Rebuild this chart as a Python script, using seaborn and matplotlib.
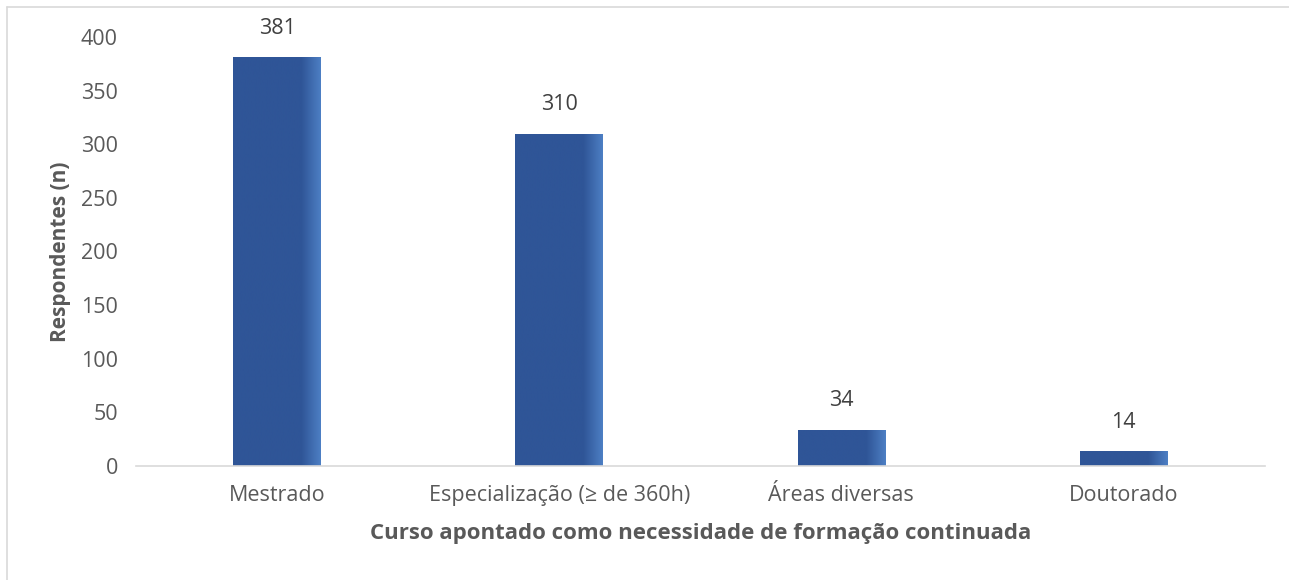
import numpy as np
import pandas as pd
import matplotlib
matplotlib.use("Agg")
import matplotlib.pyplot as plt
from matplotlib.colors import LinearSegmentedColormap
from matplotlib.lines import Line2D
import seaborn as sns

# data
cursos = ["Mestrado", "Especialização (≥ de 360h)", "Áreas diversas", "Doutorado"]
respondentes = [381, 310, 34, 14]
y_ticks = [0, 50, 100, 150, 200, 250, 300, 350, 400]

TEXT = "#595959"
BAR = "#2F5597"

sns.set_theme(style="white")
plt.rcParams["font.family"] = ["Open Sans", "DejaVu Sans"]

df = pd.DataFrame({"curso": cursos, "n": respondentes})

fig = plt.figure(figsize=(12.89, 5.8), dpi=100)
ax = fig.add_axes([0.1055, 0.1966, 0.8755, 0.7396])

sns.barplot(data=df, x="curso", y="n", color=BAR, width=0.31,
            saturation=1, ax=ax)

# excel-like shading: lighter strip on the right edge of each bar
grad = LinearSegmentedColormap.from_list(
    "bar", [(0, BAR), (0.78, BAR), (1, "#4D7FC4")])
for p in ax.patches:
    x0, y0 = p.get_x(), p.get_y()
    w, h = p.get_width(), p.get_height()
    im = ax.imshow(np.linspace(0, 1, 256).reshape(1, -1), cmap=grad,
                   aspect="auto", extent=[x0, x0 + w, y0, y0 + h],
                   zorder=p.get_zorder() + 0.1)
    im.set_clip_path(p)

for p, v in zip(ax.patches, respondentes):
    ax.text(p.get_x() + p.get_width() / 2, v + 17, str(v), ha="center",
            va="bottom", fontsize=15.5, color="#404040", clip_on=False)

ax.set_xlim(-0.5, len(cursos) - 0.5)
ax.set_ylim(0, 400)
ax.set_yticks(y_ticks)
ax.tick_params(axis="both", length=0, labelsize=15.5, labelcolor=TEXT)
ax.tick_params(axis="x", pad=14)
ax.tick_params(axis="y", pad=13)

ax.set_xlabel("Curso apontado como necessidade de formação continuada",
              fontsize=16, fontweight="bold", color=TEXT, labelpad=12)
ax.set_ylabel("Respondentes (n)", fontsize=15, fontweight="bold",
              color=TEXT, labelpad=7)

sns.despine(ax=ax, left=True)
ax.spines["bottom"].set_color("#D9D9D9")
ax.spines["bottom"].set_linewidth(1.2)

# light frame of the chart area (only top and left are visible in the crop)
fig.add_artist(Line2D([7 / 1289, 1], [1 - 7 / 580, 1 - 7 / 580],
                      color="#D9D9D9", lw=1.2))
fig.add_artist(Line2D([7 / 1289, 7 / 1289], [0, 1 - 7 / 580],
                      color="#D9D9D9", lw=1.2))

fig.savefig("out.png", dpi=100)
